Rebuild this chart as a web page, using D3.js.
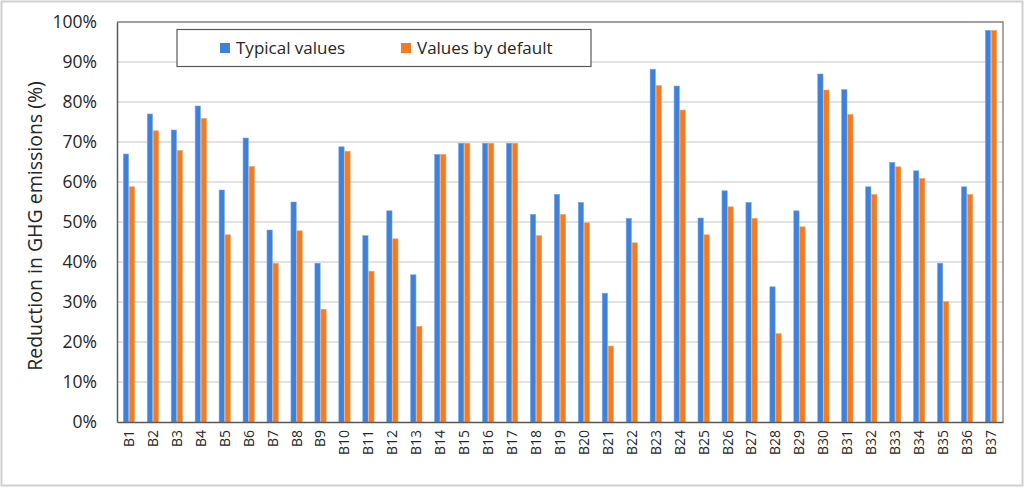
<!DOCTYPE html>
<html>
<head>
<meta charset="utf-8">
<script src="https://cdn.jsdelivr.net/npm/d3@7"></script>
<style>
  body { margin: 0; background: #fff; }
  text { font-family: "Open Sans", "Noto Sans", sans-serif; fill: #262626; }
</style>
</head>
<body>
<script>
// Chart size and plot box
let width = 1024;
let height = 488;
let plotLeft = 117;
let plotRight = 1003;
let plotTop = 22;
let plotBottom = 422;

// Data
var categories = d3.range(1, 38).map(function(i) { return 'B' + i; });
var typicalValues = [67, 77, 73, 79, 58, 71, 48, 55, 39.7, 68.8, 46.6, 52.8, 36.8, 66.9, 69.7, 69.7, 69.7,
  51.9, 56.9, 54.9, 32.2, 50.9, 88.2, 84, 51, 57.8, 54.9, 33.8, 52.8, 87, 83.1, 58.8, 64.9, 62.8, 39.7, 58.8, 97.9];
var defaultValues = [58.8, 72.8, 67.9, 75.9, 46.8, 63.9, 39.7, 47.8, 28.2, 67.7, 37.7, 45.8, 23.9, 66.9, 69.7, 69.7, 69.7,
  46.6, 51.9, 49.8, 19, 44.8, 84.1, 78, 46.8, 53.8, 50.9, 22.1, 48.8, 83, 76.9, 56.9, 63.8, 60.9, 30.1, 56.9, 97.9];
var yTicks = d3.range(0, 101, 10);
var seriesNames = ['Typical values', 'Values by default'];
var seriesColors = ['#3f80d8', '#f47b20'];

var svg = d3.select('body')
            .append('svg')
            .attr('width', width)
            .attr('height', height);

// Outer frame
svg.append('rect').attr('x', 1.5).attr('y', 1.5).attr('width', width - 3).attr('height', height - 4)
   .attr('fill', 'none').attr('stroke', '#d0d0d0').attr('stroke-width', 2);

var x = d3.scaleBand().domain(categories).range([plotLeft, plotRight]).paddingInner(0).paddingOuter(0);
var x1 = d3.scaleBand().domain([0, 1]).range([0, x.bandwidth()]).paddingInner(0.12).paddingOuter(1.05);
var y = d3.scaleLinear().domain([0, 100]).range([plotBottom, plotTop]);

// Gridlines
svg.append('g').selectAll('line').data(yTicks.slice(1)).join('line')
   .attr('x1', plotLeft).attr('x2', plotRight)
   .attr('y1', function(d) { return y(d); }).attr('y2', function(d) { return y(d); })
   .attr('stroke', '#d9d9d9').attr('stroke-width', 1.5);

// Plot box top and right edges
svg.append('path')
   .attr('d', 'M' + plotLeft + ',' + plotTop + 'H' + plotRight + 'V' + plotBottom)
   .attr('fill', 'none').attr('stroke', '#8c8c8c').attr('stroke-width', 1.5);

// Bars
var groups = svg.append('g').selectAll('g').data(categories).join('g')
   .attr('transform', function(d) { return 'translate(' + x(d) + ',0)'; });

groups.selectAll('rect').data(function(d, i) { return [typicalValues[i], defaultValues[i]]; }).join('rect')
   .attr('x', function(d, j) { return x1(j); })
   .attr('width', x1.bandwidth())
   .attr('y', function(d) { return y(d); })
   .attr('height', function(d) { return y(0) - y(d); })
   .attr('fill', function(d, j) { return seriesColors[j]; })
   .attr('stroke', function(d, j) { return j == 0 ? '#7aa8e6' : '#f8a264'; })
   .attr('stroke-width', 0.6);

// Y axis
var yAxis = svg.append('g').attr('transform', 'translate(' + plotLeft + ',0)')
   .call(d3.axisLeft(y).tickValues(yTicks).tickSize(0).tickPadding(20).tickFormat(function(d) { return d + '%'; }));
yAxis.select('.domain').attr('stroke', '#595959').attr('stroke-width', 1.5);
yAxis.selectAll('text').attr('font-size', 17.5).attr('fill', '#262626')
   .style('font-family', '"Open Sans", "Noto Sans", sans-serif');

// X axis
var xAxis = svg.append('g').attr('transform', 'translate(0,' + plotBottom + ')')
   .call(d3.axisBottom(x).tickSize(0).tickPadding(0));
xAxis.select('.domain').attr('stroke', '#595959').attr('stroke-width', 1.5);
xAxis.selectAll('text')
   .attr('font-size', 14).attr('fill', '#262626')
   .style('font-family', '"Open Sans", "Noto Sans", sans-serif')
   .attr('text-anchor', 'end').attr('dy', '0.35em')
   .attr('transform', 'translate(0,8) rotate(-90)')
   .attr('x', 0).attr('y', 0);

// Y axis title
svg.append('text')
   .attr('transform', 'translate(42,' + ((plotTop + plotBottom) / 2 + 4) + ') rotate(-90)')
   .attr('text-anchor', 'middle')
   .attr('font-size', 19.5)
   .text('Reduction in GHG emissions (%)');

// Legend
var legend = svg.append('g');
legend.append('rect').attr('x', 177).attr('y', 29.5).attr('width', 414).attr('height', 37)
   .attr('fill', '#fff').attr('stroke', '#595959').attr('stroke-width', 1.2);

var legendX = [220, 401];
var items = legend.selectAll('g').data(seriesNames).join('g')
   .attr('transform', function(d, i) { return 'translate(' + legendX[i] + ',48)'; });
items.append('rect').attr('x', 0).attr('y', -5).attr('width', 10).attr('height', 10)
   .attr('fill', function(d, i) { return seriesColors[i]; });
items.append('text').attr('x', 16).attr('dy', '0.35em').attr('font-size', 17).text(function(d) { return d; });
</script>
</body>
</html>
